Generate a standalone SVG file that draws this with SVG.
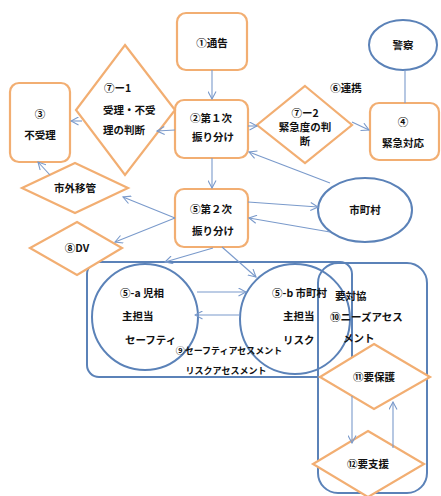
<svg xmlns="http://www.w3.org/2000/svg" width="441" height="496" viewBox="0 0 441 496">
<defs>
<style>
.box{fill:#fff;stroke:#F2AE72;stroke-width:2.2}
.dia{fill:#fff;stroke:#F2AE72;stroke-width:2.2}
.ell{fill:#fff;stroke:#5B82B8;stroke-width:2}
.grp{fill:none;stroke:#5B82B8;stroke-width:2}
.c{fill:none;stroke:#7A9ACB;stroke-width:1.1}
.t{font-family:"Noto Sans CJK JP","Noto Sans",sans-serif;font-size:10.5px;font-weight:bold;fill:#111}
.s{font-size:9px}
.m{text-anchor:middle}
</style>
<marker id="a" markerWidth="9" markerHeight="9" refX="8" refY="4.5" orient="auto" markerUnits="userSpaceOnUse">
<path d="M0.5,0.5 L8,4.5 L0.5,8.5" fill="none" stroke="#7A9ACB" stroke-width="1.1"/>
</marker>
</defs>
<rect width="441" height="496" fill="#fff"/>

<g id="group-yotaikyo"><rect class="grp" x="318" y="263" width="109" height="230" rx="20"/></g>
<g id="group-assessment"><rect class="grp" x="87" y="262" width="265" height="115" rx="12"/></g>

<g id="n1"><rect class="box" x="177" y="13" width="70" height="57" rx="9"/><text class="t m" x="212" y="47">①通告</text></g>
<g id="n2"><rect class="box" x="175" y="100" width="73" height="58" rx="9"/><text class="t m" x="211" y="122">②第１次</text><text class="t m" x="213" y="141">振り分け</text></g>
<g id="n71"><polygon class="dia" points="125,45 175,110 125,175 76,110"/><text class="t" x="104" y="92">⑦ー1</text><text class="t" x="103" y="114">受理・不受</text><text class="t" x="103" y="134">理の判断</text></g>
<g id="n3"><rect class="box" x="10" y="83" width="60" height="79" rx="9"/><text class="t m" x="40" y="118">③</text><text class="t m" x="40" y="139">不受理</text></g>
<g id="nshigai"><polygon class="dia" points="75,163 128,188 75,213 22,188"/><text class="t m" x="75" y="192">市外移管</text></g>
<g id="ndv"><polygon class="dia" points="77,222 122,248 77,275 30,248"/><text class="t m" x="77" y="252">⑧DV</text></g>
<g id="n5"><rect class="box" x="175" y="189" width="73" height="58" rx="9"/><text class="t m" x="211" y="213">⑤第２次</text><text class="t m" x="213" y="235">振り分け</text></g>
<g id="n72"><polygon class="dia" points="305,86 352,125 305,163 257,125"/><text class="t m" x="305" y="117">⑦ー2</text><text class="t m" x="305" y="131">緊急度の判</text><text class="t m" x="305" y="145">断</text></g>
<g id="npolice"><ellipse class="ell" cx="403" cy="45" rx="34" ry="25"/><text class="t m" x="403" y="49">警察</text></g>
<g id="n4"><rect class="box" x="370" y="103" width="69" height="57" rx="9"/><text class="t m" x="403" y="126">④</text><text class="t m" x="403" y="147">緊急対応</text></g>
<text class="t m" x="346" y="92">⑥連携</text>
<g id="nshichoson"><ellipse class="ell" cx="365" cy="210" rx="47" ry="32"/><text class="t m" x="365" y="214">市町村</text></g>

<g id="n5a"><circle class="ell" cx="145" cy="317" r="53" style="fill:none"/><text class="t" x="120" y="297">⑤-a 児相</text><text class="t" x="122" y="320">主担当</text><text class="t" x="125" y="344">セーフティ</text></g>
<g id="n5b"><circle class="ell" cx="295" cy="319" r="55" style="fill:none"/><text class="t" x="272" y="297">⑤-b 市町村</text><text class="t" x="283" y="320">主担当</text><text class="t" x="283" y="344">リスク</text></g>
<text class="t s m" x="229" y="354">⑨セーフティアセスメント</text>
<text class="t s m" x="226" y="374">リスクアセスメント</text>
<g id="n10"><text class="t" x="335" y="300">要対協</text><text class="t" x="330" y="321">⑩ニーズアセス</text><text class="t" x="343" y="342">メント</text></g>
<g id="n11"><polygon class="dia" points="374,344 430,377 374,409 320,377"/><text class="t m" x="374" y="381">⑪要保護</text></g>
<g id="n12"><polygon class="dia" points="368,431 424,464 368,497 313,464"/><text class="t m" x="368" y="468">⑫要支援</text></g>

<g id="connectors">
<line class="c" x1="212" y1="70" x2="212" y2="99" marker-end="url(#a)"/>
<line class="c" x1="175" y1="130" x2="157" y2="131" marker-end="url(#a)"/>
<line class="c" x1="82" y1="121" x2="71" y2="121" marker-end="url(#a)"/>
<line class="c" x1="248" y1="126" x2="257" y2="126" marker-end="url(#a)"/>
<line class="c" x1="352" y1="122" x2="369" y2="130" marker-end="url(#a)"/>
<line class="c" x1="405" y1="70" x2="405" y2="103"/>
<line class="c" x1="330" y1="183" x2="249" y2="152" marker-end="url(#a)"/>
<line class="c" x1="212" y1="158" x2="212" y2="188" marker-end="url(#a)"/>
<line class="c" x1="175" y1="218" x2="123" y2="197" marker-end="url(#a)"/>
<line class="c" x1="175" y1="218" x2="115" y2="242" marker-end="url(#a)"/>
<line class="c" x1="50" y1="175" x2="38" y2="162" marker-end="url(#a)"/>
<line class="c" x1="248" y1="202" x2="318" y2="207" marker-end="url(#a)"/>
<line class="c" x1="330" y1="232" x2="249" y2="218" marker-end="url(#a)"/>
<line class="c" x1="213" y1="248" x2="165" y2="262" marker-end="url(#a)"/>
<line class="c" x1="222" y1="247" x2="256" y2="277" marker-end="url(#a)"/>
<line class="c" x1="197" y1="292" x2="246" y2="292" marker-end="url(#a)"/>
<line class="c" x1="240" y1="315" x2="195" y2="315" marker-end="url(#a)"/>
<line class="c" x1="352" y1="396" x2="352" y2="443" marker-end="url(#a)"/>
<line class="c" x1="393" y1="448" x2="393" y2="402" marker-end="url(#a)"/>
</g>
</svg>
